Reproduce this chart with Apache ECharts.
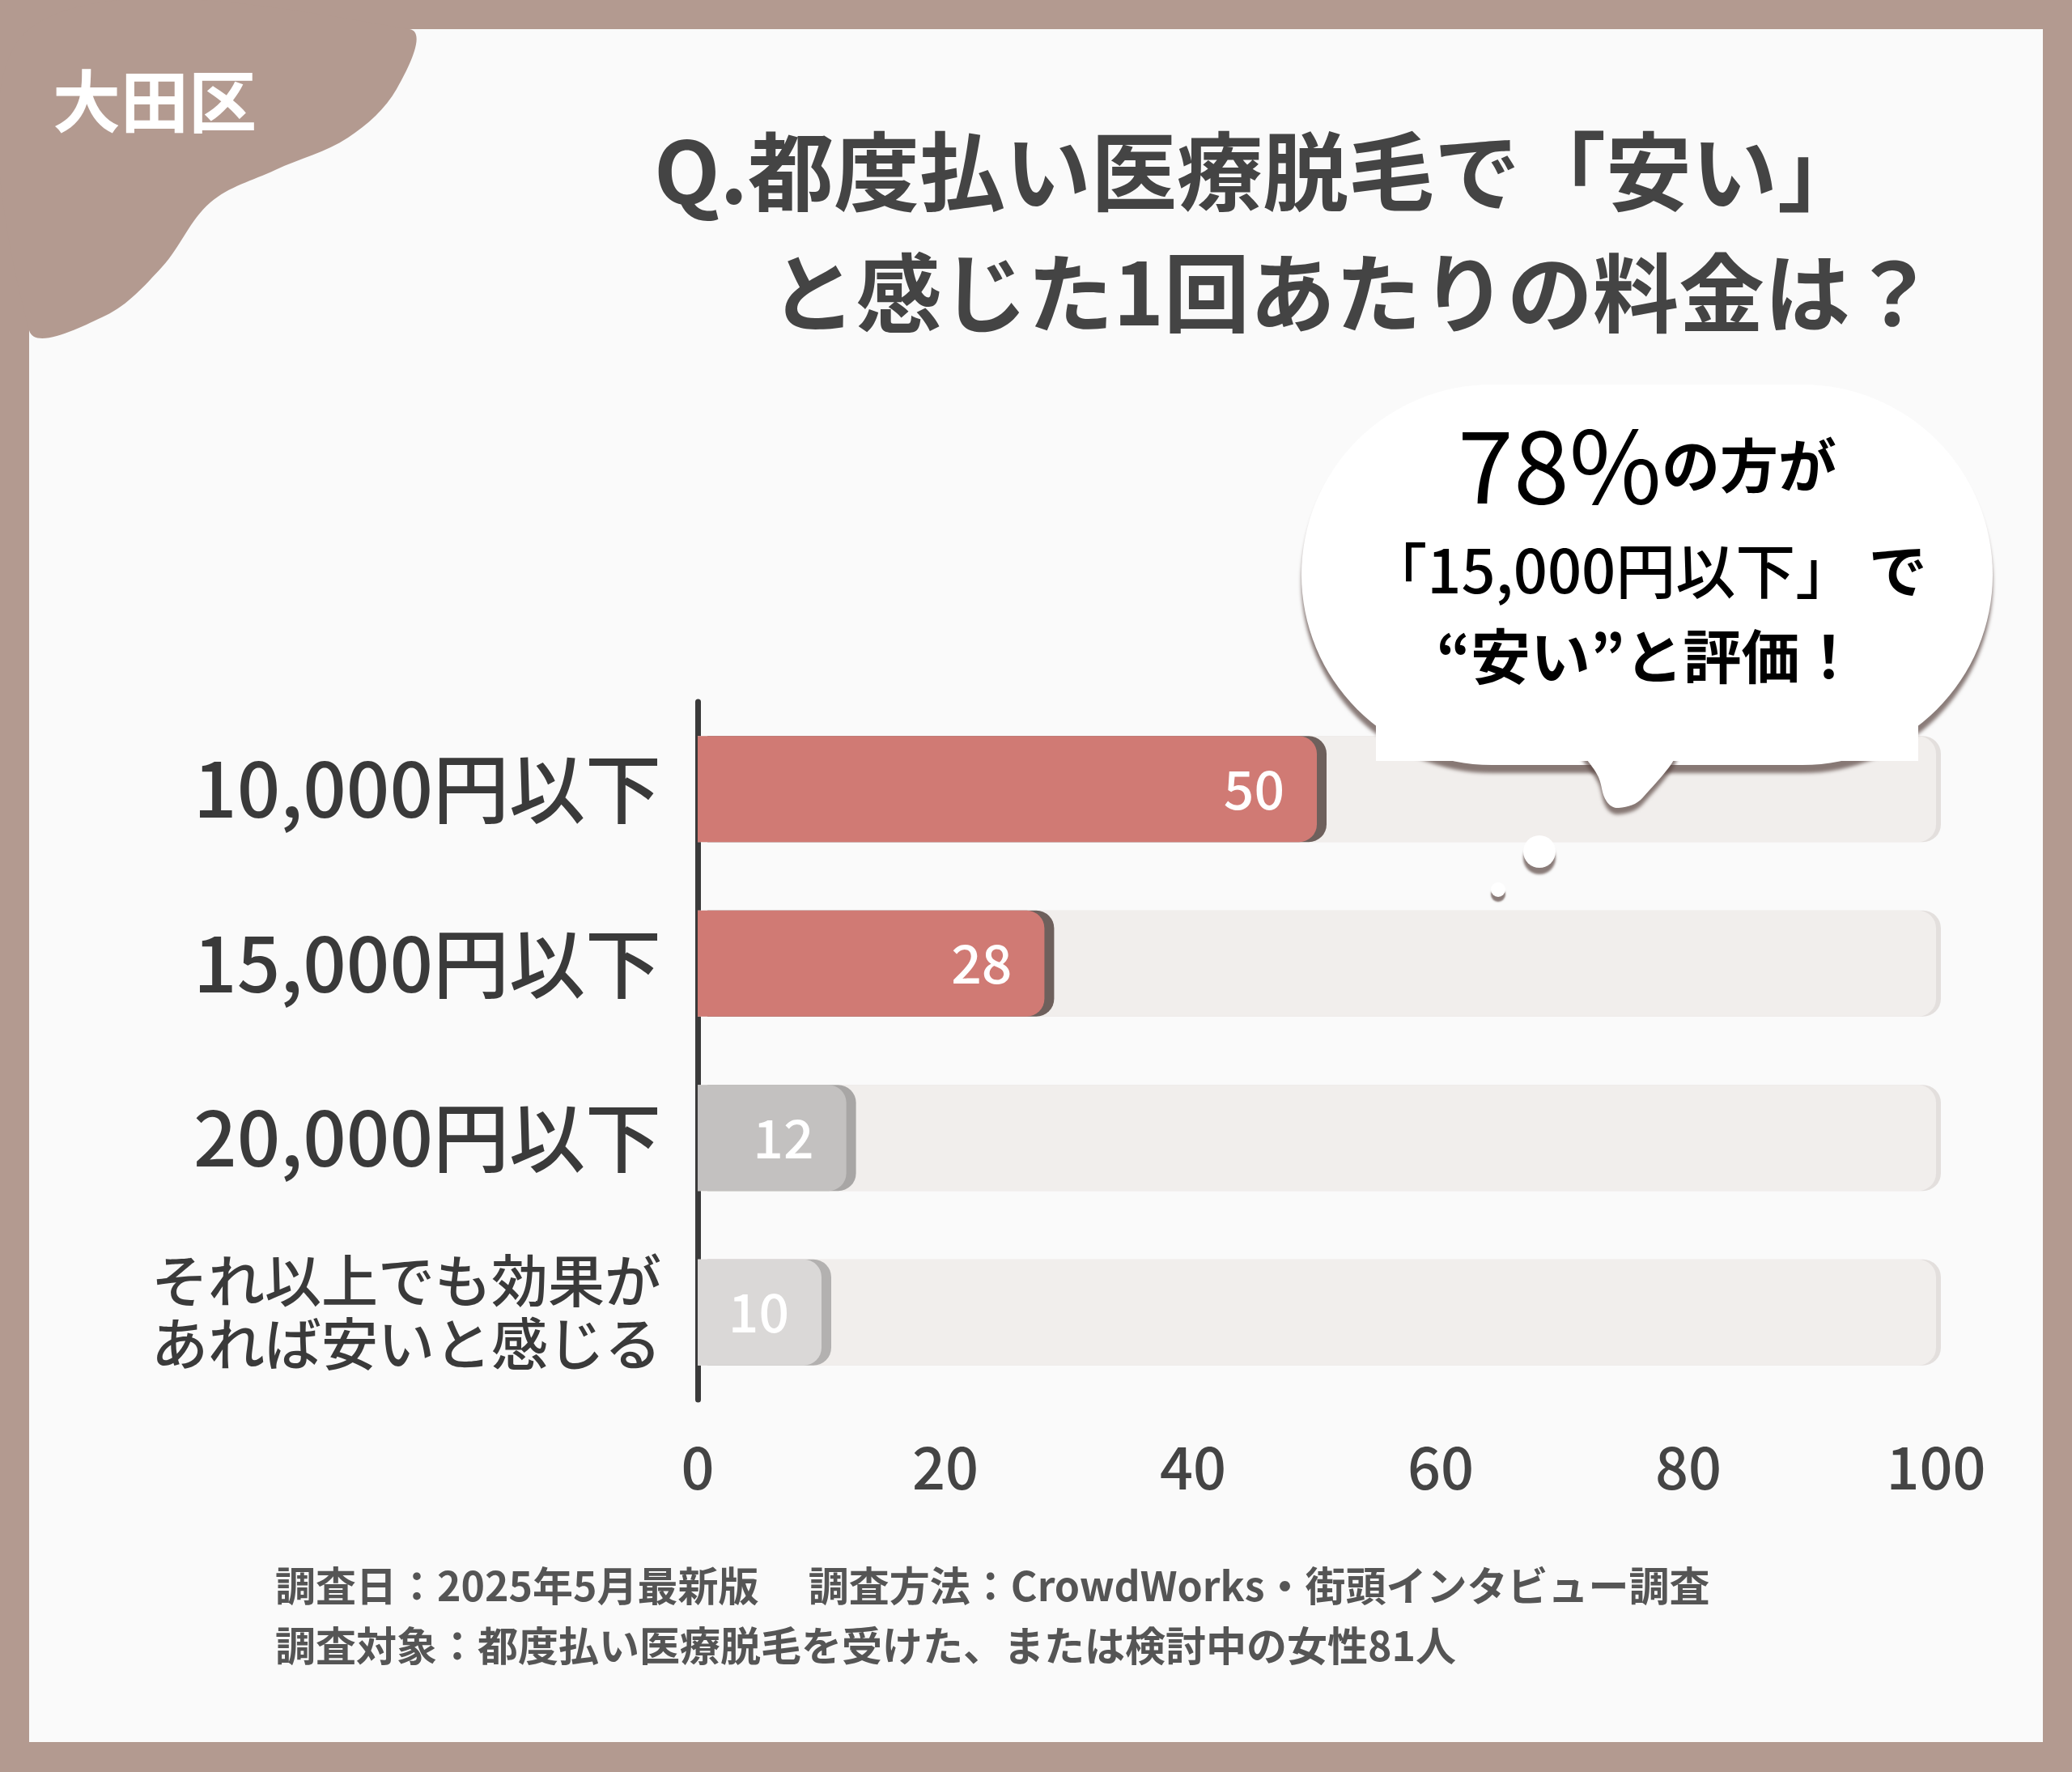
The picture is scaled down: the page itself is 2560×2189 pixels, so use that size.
<!DOCTYPE html>
<html><head><meta charset="utf-8">
<script src="https://cdn.jsdelivr.net/npm/echarts@6/dist/echarts.min.js"></script>
<style>html,body{margin:0;padding:0;background:#b39a90}#c{width:2560px;height:2189px}</style>
</head><body><div id="c"></div>
<script>
const categories = ['10,000円以下','15,000円以下','20,000円以下','それ以上でも効果が\nあれば安いと感じる'];
const values = [50, 28, 12, 10];
const barColors = ['#d07a74','#d07a74','#c3c1c0','#dad8d7'];
const shadowColors = ['#6e605c','#6e605c','#a8a6a5','#b3b1b0'];
const xTicks = [0,20,40,60,80,100];
const F = '"Noto Sans CJK JP", "Noto Sans", sans-serif';
const chart = echarts.init(document.getElementById('c'));
chart.setOption({
  backgroundColor:'#b39a90',
  animation:false,
  grid:{left:862,right:168,top:867,bottom:460},
  xAxis:{type:'value',min:xTicks[0],max:xTicks[xTicks.length-1],interval:20,
    splitLine:{show:false},axisLine:{show:false},axisTick:{show:false},
    axisLabel:{color:'#444',fontSize:72,fontFamily:F,fontWeight:500,margin:48}},
  yAxis:{type:'category',data:categories,inverse:true,
    axisLine:{show:true,lineStyle:{color:'#3a3a3a',width:7}},axisTick:{show:false},
    axisLabel:{color:'#3a3a3a',fontFamily:F,margin:45,
      formatter:v=>v.includes('\n')?'{s|'+v.replace('\n','}\n{s|')+'}':'{b|'+v+'}',
      rich:{b:{fontSize:94,fontFamily:F,fontWeight:500,color:'#3a3a3a'},
            s:{fontSize:70,fontFamily:F,fontWeight:500,color:'#3a3a3a',lineHeight:78}}}},
  series:[{type:'bar',barWidth:131,
    data:values.map((v,i)=>({value:v,itemStyle:{color:barColors[i],borderRadius:[0,22,22,0],
      shadowColor:shadowColors[i],shadowOffsetX:12,shadowBlur:0}})),
    showBackground:true,
    backgroundStyle:{color:'#f1eeec',borderRadius:[0,22,22,0],shadowColor:'#e3dfdd',shadowOffsetX:6,shadowBlur:0},
    label:{show:true,position:'insideRight',distance:40,color:'#fff',fontSize:66,fontFamily:F,fontWeight:500}
  }],
  graphic:[
    {type:'rect',z:-10,shape:{x:36,y:36,width:2488,height:2116},style:{fill:'#fafafa'}},
    {type:'polygon',z:-5,shape:{smooth:0.35,points:[[36,36],[506,36],[490,110],[430,170],[340,210],[260,250],[200,330],[130,390],[36,408]]},style:{fill:'#b39a90'}},
    {type:'rect',z:-5,shape:{x:36,y:36,width:470,height:40},style:{fill:'#b39a90'}},
    {type:'rect',z:-5,shape:{x:36,y:36,width:40,height:372},style:{fill:'#b39a90'}},
    {type:'text',x:65,y:125,style:{text:'大田区',fill:'#fff',font:'bold 84px '+F,textVerticalAlign:'middle'}},
    {type:'text',x:2302,y:212,style:{text:'Q.都度払い医療脱毛で「安い」',fill:'#444',font:'bold 106px '+F,textAlign:'right',textVerticalAlign:'middle'}},
    {type:'text',x:2392,y:362,style:{text:'と感じた1回あたりの料金は？',fill:'#444',font:'bold 106px '+F,textAlign:'right',textVerticalAlign:'middle'}},
    {type:'rect',z:20,shape:{x:1608,y:475,width:854,height:470,r:235},style:{fill:'#fff',shadowColor:'rgba(90,70,65,0.7)',shadowOffsetY:10,shadowBlur:4}},
    {type:'polygon',z:20,shape:{smooth:0.4,points:[[1955,920],[1975,960],[1985,990],[2000,998],[2030,985],[2070,920]]},style:{fill:'#fff',shadowColor:'rgba(90,70,65,0.7)',shadowOffsetY:8,shadowBlur:4}},
    {type:'rect',z:21,shape:{x:1700,y:880,width:670,height:60},style:{fill:'#fff'}},
    {type:'circle',z:20,shape:{cx:1902,cy:1052,r:20},style:{fill:'#fff',shadowColor:'rgba(90,70,65,0.7)',shadowOffsetY:8,shadowBlur:3}},
    {type:'circle',z:20,shape:{cx:1851,cy:1099,r:9},style:{fill:'#fff',shadowColor:'rgba(90,70,65,0.7)',shadowOffsetY:6,shadowBlur:2}},
    {type:'text',z:30,x:2035,y:575,style:{text:'{r|78%}{d|の方が}',textAlign:'center',textVerticalAlign:'middle',
      rich:{r:{fontSize:124,fontFamily:F,color:'#d07a74'},d:{fontSize:72,fontFamily:F,fontWeight:'bold',color:'#444'}}}},
    {type:'text',z:30,x:2035,y:705,style:{text:'{r|「15,000円以下」}{d| で}',textAlign:'center',textVerticalAlign:'middle',
      rich:{r:{fontSize:74,fontFamily:F,fontWeight:500,color:'#d07a74'},d:{fontSize:72,fontFamily:F,fontWeight:'bold',color:'#444'}}}},
    {type:'text',z:30,x:2035,y:811,style:{text:'{r|“安い”}{d|と評価！}',textAlign:'center',textVerticalAlign:'middle',
      rich:{r:{fontSize:74,fontFamily:F,fontWeight:'bold',color:'#d07a74'},d:{fontSize:72,fontFamily:F,fontWeight:'bold',color:'#444'}}}},
    {type:'text',x:340,y:1959,style:{text:'調査日：2025年5月最新版　 調査方法：CrowdWorks・街頭インタビュー調査',fill:'#555',font:'bold 50px '+F,textVerticalAlign:'middle'}},
    {type:'text',x:340,y:2033,style:{text:'調査対象：都度払い医療脱毛を受けた、または検討中の女性81人',fill:'#555',font:'bold 50px '+F,textVerticalAlign:'middle'}}
  ]
});
</script></body></html>
